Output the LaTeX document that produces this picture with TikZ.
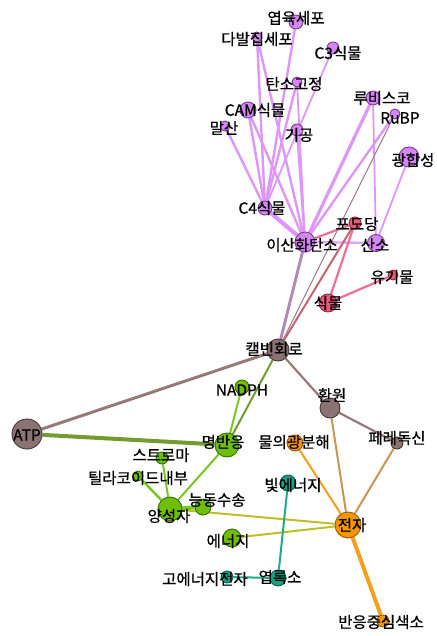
\documentclass[tikz,border=0pt]{standalone}
\usepackage{fontspec}
\setmainfont{Noto Sans CJK KR}
\newfontfamily\labfont{Noto Sans CJK KR}[FakeBold=0.7]
\pgfdeclarelayer{background}
\pgfsetlayers{background,main}
\definecolor{pF}{RGB}{214,134,242}
\definecolor{pD}{RGB}{120,60,140}
\definecolor{pE}{RGB}{222,150,248}
\definecolor{kF}{RGB}{236,90,120}
\definecolor{kD}{RGB}{140,40,60}
\definecolor{kE}{RGB}{240,110,150}
\definecolor{bF}{RGB}{140,115,115}
\definecolor{bD}{RGB}{70,55,55}
\definecolor{bE}{RGB}{150,122,122}
\definecolor{gF}{RGB}{110,190,10}
\definecolor{gD}{RGB}{50,110,0}
\definecolor{gE}{RGB}{120,200,30}
\definecolor{gO}{RGB}{115,155,45}
\definecolor{oF}{RGB}{245,150,0}
\definecolor{oD}{RGB}{150,90,0}
\definecolor{oE}{RGB}{242,160,30}
\definecolor{tE}{RGB}{200,150,80}
\definecolor{yE}{RGB}{190,190,40}
\definecolor{tF}{RGB}{20,160,130}
\definecolor{tD}{RGB}{10,100,80}
\definecolor{tL}{RGB}{30,170,140}
\definecolor{mE}{RGB}{180,138,180}
\definecolor{rE}{RGB}{195,100,115}
\definecolor{gyE}{RGB}{160,120,130}
\definecolor{lvE}{RGB}{225,165,245}
\begin{document}
\begin{tikzpicture}[x=1pt,y=-1pt,
  dot/.style={circle,inner sep=0pt,line width=0.9pt},
  pnode/.style={dot,fill=pF,draw=pD,minimum size=#1},
  knode/.style={dot,fill=kF,draw=kD,minimum size=#1},
  bnode/.style={dot,fill=bF,draw=bD,minimum size=#1},
  gnode/.style={dot,fill=gF,draw=gD,minimum size=#1},
  onode/.style={dot,fill=oF,draw=oD,minimum size=#1},
  tnode/.style={dot,fill=tF,draw=tD,minimum size=#1},
  lab/.style={inner sep=0pt,font=\labfont\fontsize{15.5}{15.5}\selectfont,text=black},
  pe/.style={draw=pE,line width=2.4pt},
  ke/.style={draw=kE,line width=2.2pt}
]
\useasboundingbox (0,0) rectangle (436,636);
% purple group
\node[pnode=14pt] (yeop) at (296,22) {};
\node[pnode=10pt] (dabal) at (257,37) {};
\node[pnode=12pt] (c3) at (333,48) {};
\node[pnode=10pt] (tanso) at (297,82) {};
\node[pnode=16pt] (cam) at (248,110) {};
\node[pnode=10pt] (malsan) at (225,126) {};
\node[pnode=12pt] (gigong) at (297,130) {};
\node[pnode=14pt] (rubisco) at (373,98) {};
\node[pnode=10pt] (rubp) at (395,114) {};
\node[pnode=20pt] (gwang) at (409,157) {};
\node[pnode=14pt] (c4) at (265,208) {};
\node[pnode=20pt] (co2) at (305,242) {};
\node[pnode=17pt] (o2) at (376,243) {};
% pink group
\node[knode=12pt] (podo) at (355,223) {};
\node[knode=10pt] (yugi) at (393,275) {};
\node[knode=18pt] (sik) at (328,303) {};
% brown group
\node[bnode=22pt] (calvin) at (278,350) {};
\node[bnode=20pt] (hwan) at (330,408) {};
\node[bnode=12pt] (ferre) at (397,443) {};
\node[bnode=30pt] (atp) at (27,434) {};
% green group
\node[gnode=14pt] (nadph) at (242,387) {};
\node[gnode=24pt] (myeong) at (227,445) {};
\node[gnode=12pt] (stroma) at (162,458) {};
\node[gnode=10pt] (thyl) at (138,476) {};
\node[gnode=16pt] (neung) at (203,507) {};
\node[gnode=24pt] (yang) at (170,509) {};
\node[gnode=18pt] (energy) at (232,538) {};
% orange group
\node[onode=16pt] (mul) at (295,443) {};
\node[onode=26pt] (jeonja) at (348,525) {};
\node[onode=12pt] (banung) at (383,621) {};
% teal group
\node[tnode=16pt] (bit) at (288,483) {};
\node[tnode=12pt] (goen) at (227,577) {};
\node[tnode=16pt] (yeoprok) at (278,578) {};
% edges
\begin{pgfonlayer}{background}
\draw[pe] (c4) -- (dabal);
\draw[pe] (c4) -- (yeop);
\draw[pe] (c4) -- (tanso);
\draw[pe,line width=1.8pt] (c4) -- (c3);
\draw[pe] (c4) -- (cam);
\draw[pe] (c4) -- (malsan);
\draw[pe,line width=4.2pt] (c4) -- (co2);
\draw[pe] (co2) -- (dabal);
\draw[pe] (co2) -- (cam);
\draw[pe,line width=1.8pt] (co2) -- (tanso);
\draw[pe] (co2) -- (gigong);
\draw[pe,line width=3.2pt] (co2) -- (rubisco);
\draw[pe] (co2) -- (rubp);
\draw[pe,line width=1.8pt] (rubisco) -- (o2);
\draw[pe,line width=1.8pt] (gwang) -- (o2);
\draw[draw=lvE,line width=2.4pt] (co2) -- (o2);
\draw[ke] (podo) -- (co2);
\draw[ke] (podo) -- (sik);
\draw[ke] (sik) -- (yugi);
\draw[draw=rE,line width=2pt] (podo) -- (calvin);
\draw[draw=gyE,line width=1pt] (rubp) -- (calvin);
\draw[draw=mE,line width=3pt] (co2) -- (calvin);
\draw[draw=bE,line width=3pt] (calvin) -- (atp);
\draw[draw=bE,line width=2.2pt] (calvin) -- (hwan);
\draw[draw=bE,line width=2.2pt] (hwan) -- (ferre);
\draw[draw=gO,line width=2pt] (calvin) -- (myeong);
\draw[draw=gE,line width=2pt] (nadph) -- (myeong);
\draw[draw=gO,line width=4pt] (atp) -- (myeong);
\draw[draw=tE,line width=2pt] (hwan) -- (jeonja);
\draw[draw=tE,line width=2pt] (ferre) -- (jeonja);
\draw[draw=oE,line width=2pt] (mul) -- (jeonja);
\draw[draw=oE,line width=4pt] (jeonja) -- (banung);
\draw[draw=yE,line width=2pt] (jeonja) -- (yang);
\draw[draw=yE,line width=2pt] (jeonja) -- (energy);
\draw[draw=gE,line width=2pt] (myeong) -- (yang);
\draw[draw=gE,line width=2pt] (yang) -- (stroma);
\draw[draw=gE,line width=2.4pt] (yang) -- (thyl);
\draw[draw=gE,line width=4pt] (yang) -- (neung);
\draw[draw=tL,line width=2pt] (bit) -- (yeoprok);
\draw[draw=tL,line width=2pt] (goen) -- (yeoprok);
\end{pgfonlayer}
% labels
\node[lab] (l-yeop) at (296,18) {엽육세포};
\node[lab] (l-dabal) at (257,39) {다발집세포};
\node[lab] (l-c3) at (338,53) {C3식물};
\node[lab] (l-tanso) at (294,84) {탄소고정};
\node[lab] (l-cam) at (255,110) {CAM식물};
\node[lab] (l-malsan) at (224,128) {말산};
\node[lab] (l-gigong) at (299,135) {기공};
\node[lab] (l-rubisco) at (382,98) {루비스코};
\node[lab] (l-rubp) at (400,118) {RuBP};
\node[lab] (l-gwang) at (413,160) {광합성};
\node[lab] (l-c4) at (262,208) {C4식물};
\node[lab] (l-podo) at (357,224) {포도당};
\node[lab] (l-co2) at (302,245) {이산화탄소};
\node[lab] (l-o2) at (375,245) {산소};
\node[lab] (l-yugi) at (392,277) {유기물};
\node[lab] (l-sik) at (328,303) {식물};
\node[lab] (l-calvin) at (274,349) {캘빈회로};
\node[lab] (l-nadph) at (242,390) {NADPH};
\node[lab] (l-hwan) at (332,395) {환원};
\node[lab] (l-ferre) at (397,438) {페레독신};
\node[lab] (l-atp) at (27,435) {ATP};
\node[lab] (l-myeong) at (223,442) {명반응};
\node[lab] (l-mul) at (294,442) {물의광분해};
\node[lab] (l-stroma) at (161,455) {스트로마};
\node[lab] (l-thyl) at (138,478) {틸라코이드내부};
\node[lab] (l-bit) at (293,485) {빛에너지};
\node[lab] (l-neung) at (217,500) {능동수송};
\node[lab] (l-yang) at (169,516) {양성자};
\node[lab] (l-jeonja) at (352,525) {전자};
\node[lab] (l-energy) at (228,541) {에너지};
\node[lab] (l-goen) at (205,579) {고에너지전자};
\node[lab] (l-yeoprok) at (280,577) {엽록소};
\node[lab] (l-banung) at (381,622) {반응중심색소};
\end{tikzpicture}
\end{document}
